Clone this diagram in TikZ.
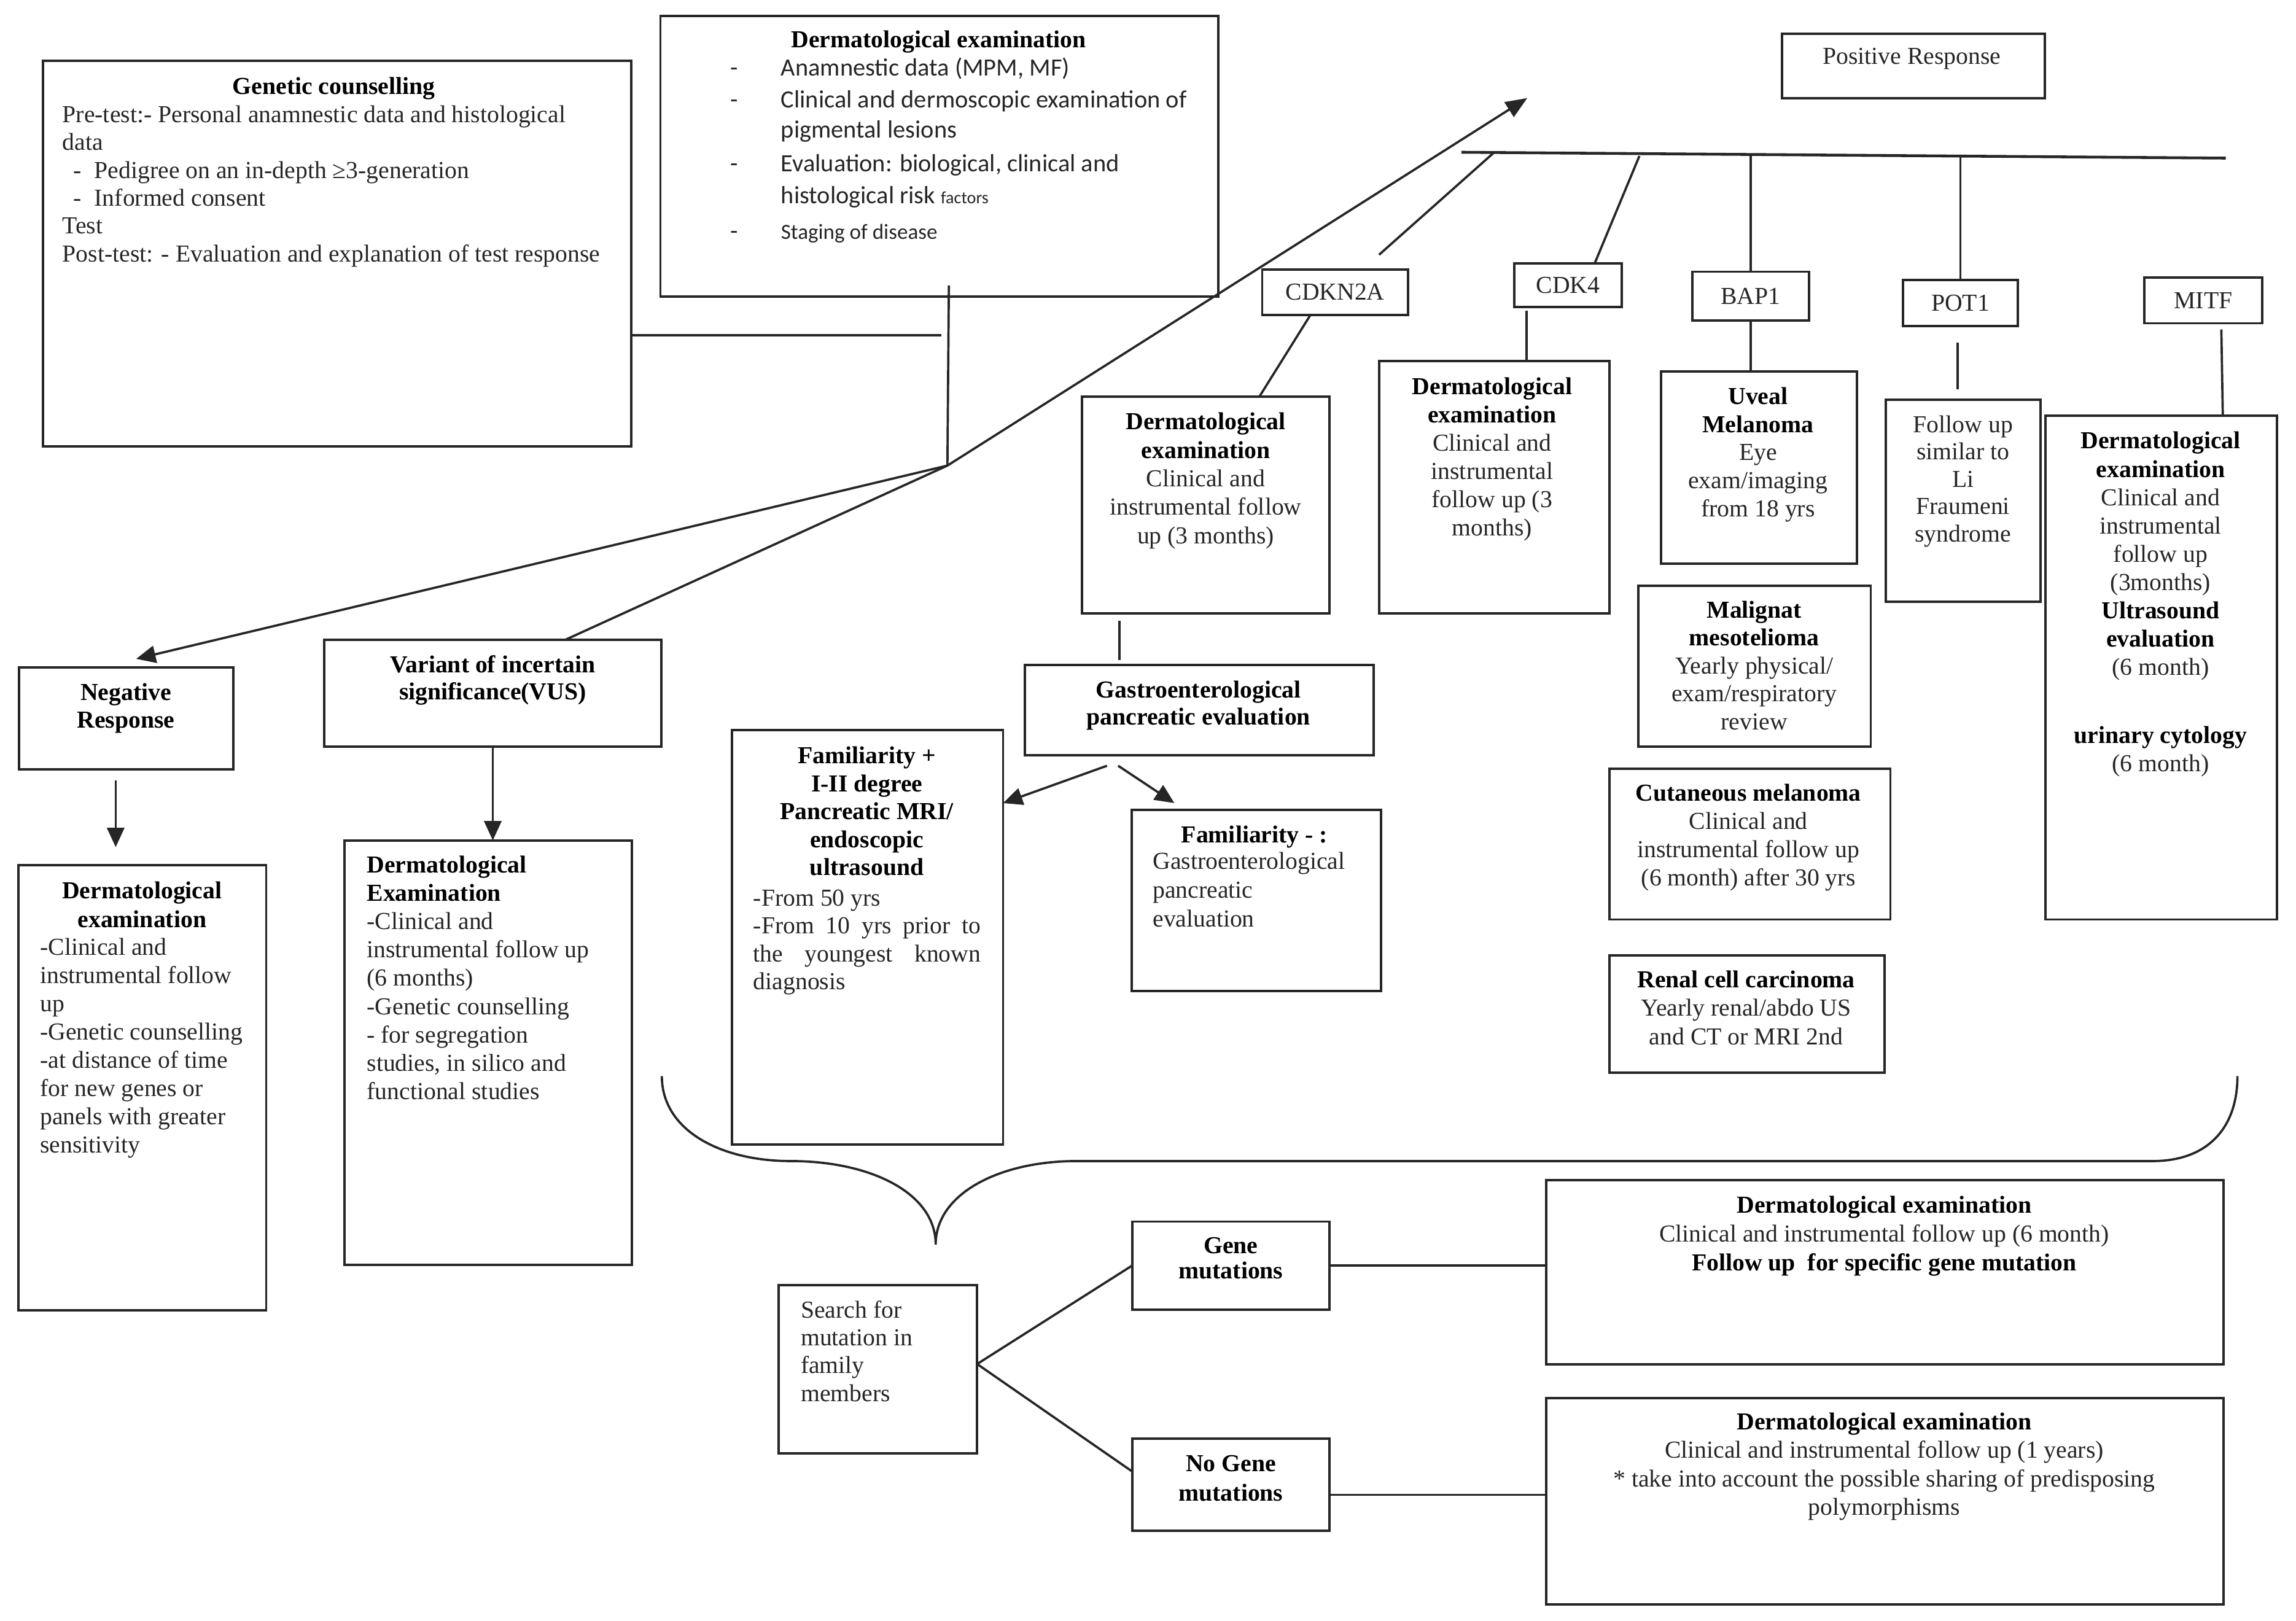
\documentclass[tikz,border=0pt]{standalone}
\usepackage{fontspec}
\setmainfont{Liberation Serif}
\newfontfamily\carl{Carlito}
\usetikzlibrary{arrows.meta,fit}
\newcommand\hb[1]{\textbf{\color{black}#1}}
\newcommand\mybox[5]{\node[bx, fit={(#2,#3) (#4,#5)}] (#1) {};}
\begin{document}
\begin{tikzpicture}[x=0.023846cm,y=-0.023846cm,
  bx/.style={draw=black!85, line width=1.1pt, inner sep=0pt, outer sep=0pt},
  ln/.style={draw=black!85, line width=1.05pt},
  arr/.style={ln,-{Triangle[length=9pt,width=8pt]}},
  tx/.style={inner sep=0pt, outer sep=0pt, text=black!85, font=\fontsize{11.3}{#1}\selectfont},
  tx/.default=13.2,
  ctx/.style={inner sep=0pt, outer sep=0pt, text=black!85, font=\carl\fontsize{11.5}{#1}\selectfont},
  ctx/.default=14.5,
]
\useasboundingbox (0,0) rectangle (1568,1107);

% ---------- boxes ----------
\mybox{gc}{29.4}{41.4}{431}{305}
\mybox{de}{451}{10.9}{832}{202.4}
\mybox{pos}{1217}{23.2}{1396.5}{67}
\mybox{cdkn2a}{862}{184}{961.5}{215}
\mybox{cdk4}{1034}{180}{1107.6}{209.7}
\mybox{bap1}{1155.8}{185.6}{1235.4}{218.8}
\mybox{pot1}{1299.6}{191.4}{1378}{222.6}
\mybox{mitf}{1464.4}{189.5}{1545}{220.8}
\mybox{neg}{13}{455.9}{159.5}{525.6}
\mybox{negd}{12.4}{591}{181.8}{894.8}
\mybox{vus}{221.5}{437}{451.6}{510}
\mybox{vusd}{235.4}{574}{431.6}{864}
\mybox{cdkd}{739}{271}{908}{419}
\mybox{cdk4d}{942}{246.6}{1099}{419}
\mybox{uv}{1134.5}{253.8}{1268}{385}
\mybox{meso}{1119}{400}{1277.6}{510}
\mybox{cut}{1099}{525}{1291}{628}
\mybox{ren}{1099}{652.4}{1287}{732.6}
\mybox{potf}{1288}{273}{1393.7}{410.8}
\mybox{mitfd}{1397}{284}{1555}{628}
\mybox{gastro}{700}{454}{938}{516}
\mybox{famp}{500}{498.8}{685}{781.7}
\mybox{famm}{773}{553}{943}{677}
\mybox{search}{531.7}{877.6}{667.3}{992.5}
\mybox{gene}{773.2}{834.3}{908}{894.4}
\mybox{nogene}{773.2}{982.7}{908}{1045.3}
\mybox{res1}{1056}{806}{1518.5}{932}
\mybox{res2}{1056}{955}{1518.5}{1095.8}

% ---------- texts ----------
\node[tx,anchor=north] (gc-h) at (228,52.7) {\hb{Genetic counselling}};
\node[tx=12.92,anchor=north west,align=left] (gc-t) at (42.7,72)
  {Pre-test:- Personal anamnestic data and histological\\data\\\hspace*{5pt}-\hspace{6pt}Pedigree on an in-depth ≥3-generation\\\hspace*{5pt}-\hspace{6pt}Informed consent\\Test\\Post-test: - Evaluation and explanation of test response};

\node[tx,anchor=north] (de-h) at (641,21) {\hb{Dermatological examination}};
\node[ctx,anchor=north west,align=left] (de-1) at (499,39.4) {\makebox[23.3pt][l]{-}Anamnestic data (MPM, MF)};
\node[ctx=14.1,anchor=north west,align=left] (de-2) at (499,61.7) {\makebox[23.3pt][l]{-}Clinical and dermoscopic examination of\\\hspace*{23.3pt}pigmental lesions};
\node[ctx=14.9,anchor=north west,align=left] (de-3) at (499,105.5) {\makebox[23.3pt][l]{-}Evaluation: biological, clinical and\\\hspace*{23.3pt}histological risk {\fontsize{8}{8}\selectfont factors}};
\node[ctx,anchor=north west,align=left] (de-4) at (499,153) {\makebox[23.3pt][l]{-}{\fontsize{10}{12}\selectfont Staging of disease}};

\node[tx,anchor=north] (pos-t) at (1305.6,33) {Positive Response};
\node[tx] (cdkn2a-t) at (cdkn2a) {CDKN2A};
\node[tx] (cdk4-t) at (cdk4) {CDK4};
\node[tx] (bap1-t) at (bap1) {BAP1};
\node[tx] (pot1-t) at (pot1) {POT1};
\node[tx] (mitf-t) at (mitf) {MITF};

\node[tx=12.9,anchor=north,align=center] (neg-t) at (86,466.7) {\hb{Negative}\\\hb{Response}};
\node[tx=13.55,anchor=north,align=center] (negd-h) at (97,602) {\hb{Dermatological}\\\hb{examination}};
\node[tx=13.08,anchor=north west,align=left] (negd-t) at (27.4,640.8)
  {-Clinical and\\instrumental follow\\up\\-Genetic counselling\\-at distance of time\\for new genes or\\panels with greater\\sensitivity};

\node[tx=12.5,anchor=north,align=center] (vus-t) at (336.5,447.6) {\hb{Variant of incertain}\\\hb{significance(VUS)}};
\node[tx=13.15,anchor=north west,align=left] (vusd-t) at (250.6,584.4)
  {\hb{Dermatological}\\\hb{Examination}\\-Clinical and\\instrumental follow up\\(6 months)\\-Genetic counselling\\- for segregation\\studies, in silico and\\functional studies};

\node[tx=13.18,anchor=north,align=center] (cdkd-t) at (823.4,282) {\hb{Dermatological}\\\hb{examination}\\Clinical and\\instrumental follow\\up (3 months)};
\node[tx=13.08,anchor=north,align=center] (cdk4d-t) at (1019,257.8) {\hb{Dermatological}\\\hb{examination}\\Clinical and\\instrumental\\follow up (3\\months)};
\node[tx=13.04,anchor=north,align=center] (uv-t) at (1200.6,264.5) {\hb{Uveal}\\\hb{Melanoma}\\Eye\\exam/imaging\\from 18 yrs};
\node[tx=12.94,anchor=north,align=center] (meso-t) at (1198,410.5) {\hb{Malignat}\\\hb{mesotelioma}\\Yearly physical/\\exam/respiratory\\review};
\node[tx=13.08,anchor=north,align=center] (cut-t) at (1194,535.7) {\hb{Cutaneous melanoma}\\Clinical and\\instrumental follow up\\(6 month) after 30 yrs};
\node[tx=13.21,anchor=north,align=center] (ren-t) at (1192.5,663) {\hb{Renal cell carcinoma}\\Yearly renal/abdo US\\and CT or MRI 2nd};
\node[tx=12.67,anchor=north,align=center] (potf-t) at (1340.6,283.8) {Follow up\\similar to\\Li\\Fraumeni\\syndrome};
\node[tx=13.1,anchor=north,align=center] (mitfd-t) at (1475.5,295)
  {\hb{Dermatological}\\\hb{examination}\\Clinical and\\instrumental\\follow up\\(3months)\\\hb{Ultrasound}\\\hb{evaluation}\\(6 month)\\[18.5pt]\hb{urinary cytology}\\(6 month)};

\node[tx=12.67,anchor=north,align=center] (gastro-t) at (818.5,465) {\hb{Gastroenterological}\\\hb{pancreatic evaluation}};
\node[tx=12.94,anchor=north,align=center] (famp-h) at (592,510) {\hb{Familiarity +}\\\hb{I-II degree}\\\hb{Pancreatic MRI/}\\\hb{endoscopic}\\\hb{ultrasound}};
\node[tx=12.96,anchor=north west,align=left] (famp-t) at (514.5,607.6)
  {-From 50 yrs\\\makebox[105.4pt][s]{-From 10 yrs prior to}\\\makebox[105.4pt][s]{the youngest known}\\diagnosis};
\node[tx,anchor=north] (famm-h) at (856.7,564) {\hb{Familiarity - :}};
\node[tx=13.42,anchor=north west,align=left] (famm-t) at (787.3,582) {Gastroenterological\\pancreatic\\evaluation};

\node[tx=12.87,anchor=north west,align=left] (search-t) at (546.9,888.4) {Search for\\mutation in\\family\\members};
\node[tx=11.6,anchor=north,align=center] (gene-t) at (840.6,845.2) {\hb{Gene}\\\hb{mutations}};
\node[tx=13.55,anchor=north,align=center] (nogene-t) at (840.6,994) {\hb{No Gene}\\\hb{mutations}};
\node[tx=13.45,anchor=north,align=center] (res1-t) at (1286.8,816.7)
  {\hb{Dermatological examination}\\Clinical and instrumental follow up (6 month)\\\hb{Follow up\ \ for specific gene mutation}};
\node[tx=13.15,anchor=north,align=center] (res2-t) at (1286.8,965)
  {\hb{Dermatological examination}\\Clinical and instrumental follow up (1 years)\\* take into account the possible sharing of predisposing\\polymorphisms};

% ---------- coordinates ----------
\coordinate (jn) at (647,318);
\coordinate (gcl) at (643,229);
\coordinate (dest) at (648,195);
\coordinate (postip) at (1043,67);
\coordinate (negtip) at (93,450);
\coordinate (vusl) at (386,437);
\coordinate (negA) at (79,533);
\coordinate (negB) at (79,578.6);
\coordinate (barL) at (998,104);
\coordinate (barR) at (1520,108);
\coordinate (b1) at (1020.5,104);
\coordinate (b1e) at (941.8,174);
\coordinate (b2) at (1119.6,106.5);
\coordinate (b2e) at (1089,180);
\coordinate (b3) at (1195.6,106);
\coordinate (b4) at (1338.8,107);
\coordinate (c1) at (895,215);
\coordinate (c1e) at (860,271);
\coordinate (c2) at (1042.6,212);
\coordinate (c2e) at (1042.6,246.6);
\coordinate (p1) at (1337,234);
\coordinate (p1e) at (1337,266);
\coordinate (m1) at (1517,225);
\coordinate (m1e) at (1518,284);
\coordinate (g1) at (764.5,424);
\coordinate (g1e) at (764.5,451);
\coordinate (ga) at (756,523);
\coordinate (gat) at (685,548.5);
\coordinate (gb) at (763.6,523);
\coordinate (gbt) at (802,548.5);
\coordinate (sr) at (667.3,931.6);
\coordinate (ng2) at (1056,1021);

% ---------- connectors ----------
\draw[ln] (gc.east |- gcl) -- (gcl);
\draw[ln] (dest) -- (jn);
\draw[ln,-{Triangle[length=10pt,width=8pt]}] (jn) -- (postip);
\draw[arr] (jn) -- (negtip);
\draw[ln] (jn) -- (vusl);
\draw[arr] (negA) -- (negB);
\draw[arr] (vus.south) -- (vus.south |- vusd.north);
\draw[draw=black!85, line width=1.3pt] (barL) -- (barR);
\draw[ln] (b1) -- (b1e);
\draw[ln] (b2) -- (b2e);
\draw[ln] (b3) -- (bap1.north);
\draw[ln] (b4) -- (pot1.north);
\draw[ln] (c1) -- (c1e);
\draw[ln] (c2) -- (c2e);
\draw[ln] (bap1.south) -- (bap1.south |- uv.north);
\draw[ln] (p1) -- (p1e);
\draw[ln] (m1) -- (m1e);
\draw[ln] (g1) -- (g1e);
\draw[arr] (ga) -- (gat);
\draw[arr] (gb) -- (gbt);
% brace
\draw[ln] (452,735) .. controls (452,772) and (492,793) .. (540,793)
  .. controls (595,793) and (639,815) .. (639,850)
  .. controls (639,815) and (683,793) .. (735,793)
  -- (1470,793) .. controls (1508,793) and (1528,770) .. (1528,735);
\draw[ln] (sr) -- (gene.west);
\draw[ln] (sr) -- (nogene.west |- 0,1005);
\draw[ln] (gene.east) -- (gene.east -| res1.west);
\draw[ln] (nogene.east |- ng2) -- (ng2);
\end{tikzpicture}
\end{document}
